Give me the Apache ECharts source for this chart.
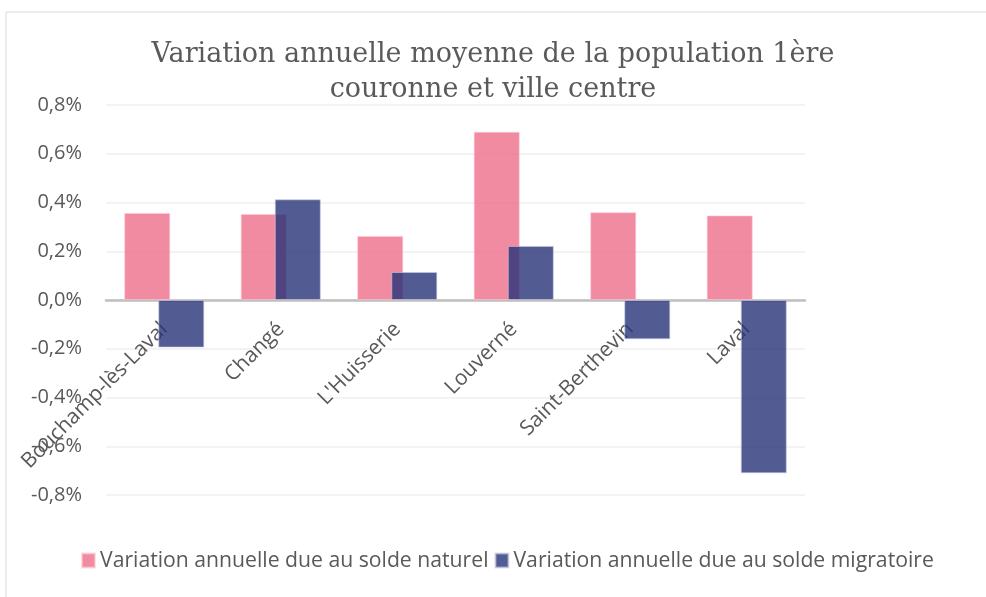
<!DOCTYPE html>
<html>
<head>
<meta charset="utf-8">
<script src="https://cdn.jsdelivr.net/npm/echarts@6/dist/echarts.min.js"></script>
<style>
  html, body { margin: 0; padding: 0; background: #fff; }
  #chart { width: 986px; height: 597px; }
</style>
</head>
<body>
<div id="chart"></div>
<script>
// communes (categories)
var communes = ['Bouchamp-lès-Laval', 'Changé', "L'Huisserie", 'Louverné', 'Saint-Berthevin', 'Laval'];
// en %
var soldeNaturel = [0.357, 0.353, 0.263, 0.690, 0.360, 0.347];
var soldeMigratoire = [-0.195, 0.413, 0.115, 0.222, -0.161, -0.711];
var seriesNames = ['Variation annuelle due au solde naturel', 'Variation annuelle due au solde migratoire'];
var titleText = 'Variation annuelle moyenne de la population 1ère\ncouronne et ville centre';

var myChart = echarts.init(document.getElementById('chart'));

var gridTop = 105, gridBottom = 102;
var gridHeight = 597 - gridTop - gridBottom;

var option = {
  animation: false,
  backgroundColor: '#fff',
  title: {
    text: titleText,
    left: 'center',
    top: 32,
    textStyle: {
      fontFamily: 'DejaVu Serif',
      fontWeight: 'normal',
      fontSize: 27,
      lineHeight: 35,
      color: '#5a5a5a'
    }
  },
  graphic: [{
    type: 'rect',
    shape: { x: 6, y: 12, width: 1000, height: 600 },
    style: { fill: 'none', stroke: '#d9d9d9', lineWidth: 1 },
    silent: true
  }],
  legend: {
    bottom: 21,
    left: 76,
    icon: 'rect',
    itemWidth: 13,
    itemHeight: 14,
    itemGap: 6,
    textStyle: { fontFamily: 'Open Sans', fontSize: 21.2, color: '#595959' },
    data: seriesNames
  },
  grid: { left: 106, right: 181, top: gridTop, bottom: gridBottom, outerBoundsMode: 'none' },
  xAxis: {
    type: 'category',
    data: communes,
    // axe placé sur le zéro
    offset: -gridHeight / 2,
    axisLine: { onZero: false, lineStyle: { color: '#bfbfbf', width: 2.5 } },
    axisTick: { show: false },
    axisLabel: {
      rotate: 45,
      margin: 26,
      fontFamily: 'Open Sans',
      fontSize: 21,
      color: '#595959',
      interval: 0
    }
  },
  yAxis: {
    type: 'value',
    min: -0.8,
    max: 0.8,
    interval: 0.2,
    axisLine: { show: false },
    axisTick: { show: false },
    splitLine: { lineStyle: { color: '#efefef', width: 1.5 } },
    axisLabel: {
      margin: 24,
      fontFamily: 'Open Sans',
      fontSize: 20,
      color: '#595959',
      formatter: function (v) {
        return v.toFixed(1).replace('.', ',') + '%';
      }
    }
  },
  series: [
    {
      name: seriesNames[0],
      type: 'bar',
      data: soldeNaturel,
      barWidth: '39.5%',
      barGap: '-26%',
      itemStyle: { color: 'rgba(236,110,138,0.8)', borderColor: 'rgba(255,200,210,0.6)', borderWidth: 1 }
    },
    {
      name: seriesNames[1],
      type: 'bar',
      data: soldeMigratoire,
      barWidth: '39.5%',
      barGap: '-26%',
      itemStyle: { color: 'rgba(40,50,120,0.8)', borderColor: 'rgba(200,205,230,0.6)', borderWidth: 1 }
    }
  ]
};

myChart.setOption(option);
</script>
</body>
</html>
